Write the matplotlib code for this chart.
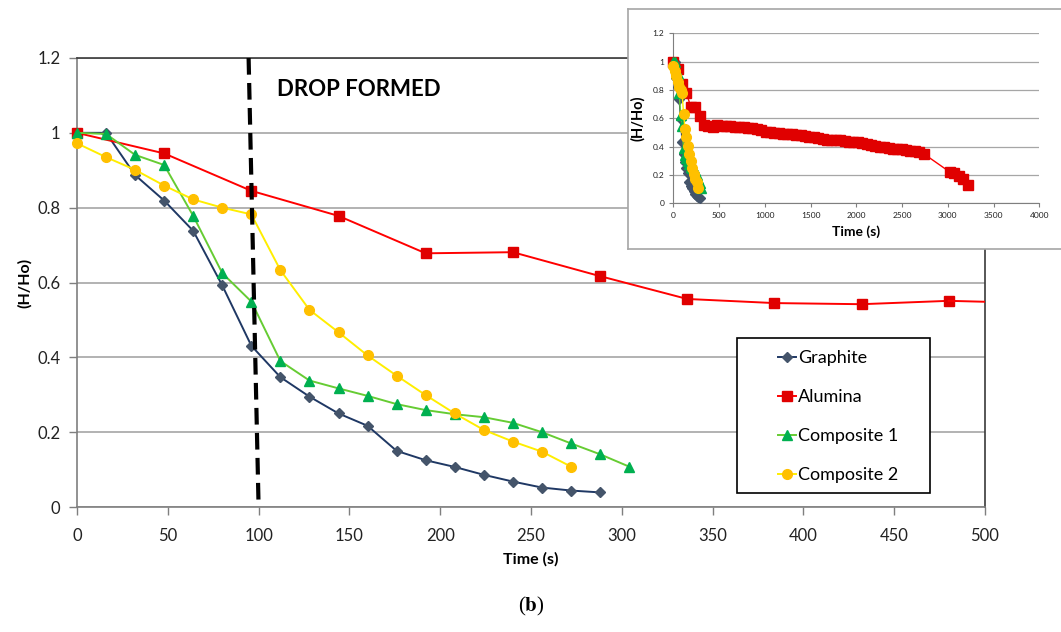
import numpy as np
import matplotlib
matplotlib.use("Agg")
import matplotlib.pyplot as plt
from matplotlib.patches import Rectangle

plt.rcParams['font.family'] = ['Lato', 'DejaVu Sans']
plt.rcParams['mathtext.fontset'] = 'stix'

# --- data ---
t16 = [0, 16, 32, 48, 64, 80, 96, 112, 128, 144, 160, 176, 192, 208, 224,
       240, 256, 272, 288, 304]
graphite = [1.0, 1.0, 0.887, 0.819, 0.738, 0.592, 0.431, 0.347, 0.295, 0.250,
            0.217, 0.150, 0.125, 0.107, 0.086, 0.068, 0.052, 0.044, 0.039]
composite1 = [1.0, 0.997, 0.941, 0.914, 0.778, 0.625, 0.549, 0.390, 0.338,
              0.317, 0.297, 0.275, 0.259, 0.248, 0.240, 0.225, 0.200, 0.170,
              0.141, 0.108]
composite2 = [0.972, 0.935, 0.901, 0.859, 0.822, 0.800, 0.782, 0.633, 0.527,
              0.467, 0.405, 0.351, 0.299, 0.250, 0.206, 0.175, 0.148, 0.108]

# alumina sampled every 48 s up to 2736 s, then tail points
alumina = [1.0, 0.945, 0.845, 0.778, 0.678, 0.681, 0.617, 0.556, 0.545, 0.542,
           0.551, 0.545, 0.548, 0.545, 0.542, 0.540, 0.538, 0.535, 0.530, 0.522,
           0.515, 0.505, 0.500, 0.498, 0.495, 0.492, 0.490, 0.488, 0.485, 0.480,
           0.475, 0.470, 0.465, 0.460, 0.455, 0.450, 0.448, 0.446, 0.444, 0.440,
           0.436, 0.432, 0.430, 0.428, 0.420, 0.412, 0.405, 0.400, 0.395, 0.390,
           0.385, 0.382, 0.380, 0.376, 0.372, 0.368, 0.362, 0.350]
alumina_t = list(48 * np.arange(len(alumina)))
alumina_tail_t = [3024, 3072, 3120, 3168, 3216]
alumina_tail = [0.220, 0.212, 0.195, 0.170, 0.130]

drop_x = [94.5, 100]
drop_y = [1.2, 0]

c_gr_line, c_gr_mk = '#1F3864', '#44546A'
c_al_line, c_al_mk = '#FF0000', '#E00000'
c_c1_line, c_c1_mk = '#66CC33', '#00B050'
c_c2_line, c_c2_mk = '#FFEE00', '#FFC000'

W, H = 1061, 632
fig = plt.figure(figsize=(W / 100, H / 100), dpi=100)
ax = fig.add_axes([77 / W, 1 - 507 / H, 908 / W, 449 / H])

def draw_series(a, ms, lw, main=True):
    n = len(graphite)
    a.plot(t16[:n], graphite, color=c_gr_line, lw=lw, marker='D', ms=ms * 0.8,
           mfc=c_gr_mk, mec=c_gr_mk, clip_on=False, zorder=3, label='Graphite')
    if main:
        k = 11
        a.plot(alumina_t[:k], alumina[:k], color=c_al_line, lw=lw, marker='s', ms=ms,
               mfc=c_al_mk, mec=c_al_mk, clip_on=False, zorder=3, label='Alumina')
        a.plot(alumina_t[k - 1:k + 1], alumina[k - 1:k + 1], color=c_al_line, lw=lw,
               zorder=3)
    else:
        a.plot(alumina_t + alumina_tail_t, alumina + alumina_tail, color=c_al_line,
               lw=lw, marker='s', ms=ms, mfc=c_al_mk, mec=c_al_mk, clip_on=False,
               zorder=3, label='Alumina')
    a.plot(t16[:len(composite1)], composite1, color=c_c1_line, lw=lw, marker='^',
           ms=ms, mfc=c_c1_mk, mec=c_c1_mk, clip_on=False, zorder=3,
           label='Composite 1')
    a.plot(t16[:len(composite2)], composite2, color=c_c2_line, lw=lw, marker='o',
           ms=ms, mfc=c_c2_mk, mec=c_c2_mk, clip_on=False, zorder=3,
           label='Composite 2')

draw_series(ax, 7, 1.4)
ax.plot(drop_x, drop_y, color='black', lw=3, ls=(0, (4, 2)), zorder=4, clip_on=False)
ax.text(110, 1.115, 'DROP FORMED', fontsize=16, fontweight='bold', va='center')

ax.set_xlim(0, 500)
ax.set_ylim(0, 1.2)
ax.set_xticks(np.arange(0, 501, 50))
yt = [0, 0.2, 0.4, 0.6, 0.8, 1.0, 1.2]
ax.set_yticks(yt)
ax.set_yticklabels(['0', '0.2', '0.4', '0.6', '0.8', '1', '1.2'])
ax.tick_params(labelsize=12, colors='#7f7f7f', labelcolor='#222222', length=6, width=1)
ax.tick_params(axis='x', pad=9)
ax.tick_params(axis='y', pad=6)
ax.grid(axis='y', color='#A6A6A6', lw=1.2)
ax.set_axisbelow(True)
for s in ['left', 'bottom']:
    ax.spines[s].set_color('#7f7f7f')
for s in ['top', 'right']:
    ax.spines[s].set_color('#3a3a3a')
for s in ax.spines.values():
    s.set_linewidth(1.2)
ax.set_xlabel('Time (s)', fontsize=11.5, fontweight='bold', labelpad=6)
ax.set_ylabel('(H/Ho)', fontsize=11.5, fontweight='bold', labelpad=4)

# legend with separate frame
ax.add_patch(Rectangle((0.7265, 0.032), 0.2125, 0.344, transform=ax.transAxes,
                       fill=True, facecolor='white', edgecolor='black', lw=1.2,
                       zorder=5))
leg = ax.legend(loc='upper left', bbox_to_anchor=(0.766, 0.362), frameon=False,
                fontsize=13, handlelength=1.0, handletextpad=0.1,
                labelspacing=1.28, borderpad=0.3, borderaxespad=0)
leg.set_zorder(6)

fig.text(531 / W, 1 - 606 / H, '(' + r'$\mathbf{b}$' + ')', ha='center', va='center',
         fontsize=15, family='Liberation Serif')

# inset frame
box = fig.add_axes([628 / W, 1 - 249 / H, 1 - 628 / W + 0.01, 240 / H])
box.set_xticks([])
box.set_yticks([])
box.set_facecolor('white')
for s in box.spines.values():
    s.set_color('#A6A6A6')
    s.set_linewidth(1.2)

ins = fig.add_axes([673.3 / W, 1 - 203.3 / H, 366 / W, 170 / H])
draw_series(ins, 7, 1.0, main=False)
ins.set_xlim(0, 4000)
ins.set_ylim(0, 1.2)
ins.set_xticks(np.arange(0, 4001, 500))
ins.set_yticks(yt)
ins.set_yticklabels(['0', '0.2', '0.4', '0.6', '0.8', '1', '1.2'])
ins.tick_params(labelsize=6, colors='#7f7f7f', labelcolor='#222222', length=3, width=0.8)
ins.grid(axis='y', color='#A6A6A6', lw=0.9)
ins.set_axisbelow(True)
for s in ['top', 'right']:
    ins.spines[s].set_visible(False)
for s in ['left', 'bottom']:
    ins.spines[s].set_color('#7f7f7f')
ins.set_xlabel('Time (s)', fontsize=10, fontweight='bold', labelpad=4)
ins.set_ylabel('(H/Ho)', fontsize=10.5, fontweight='bold', labelpad=5)

fig.savefig('out.png', dpi=100)
